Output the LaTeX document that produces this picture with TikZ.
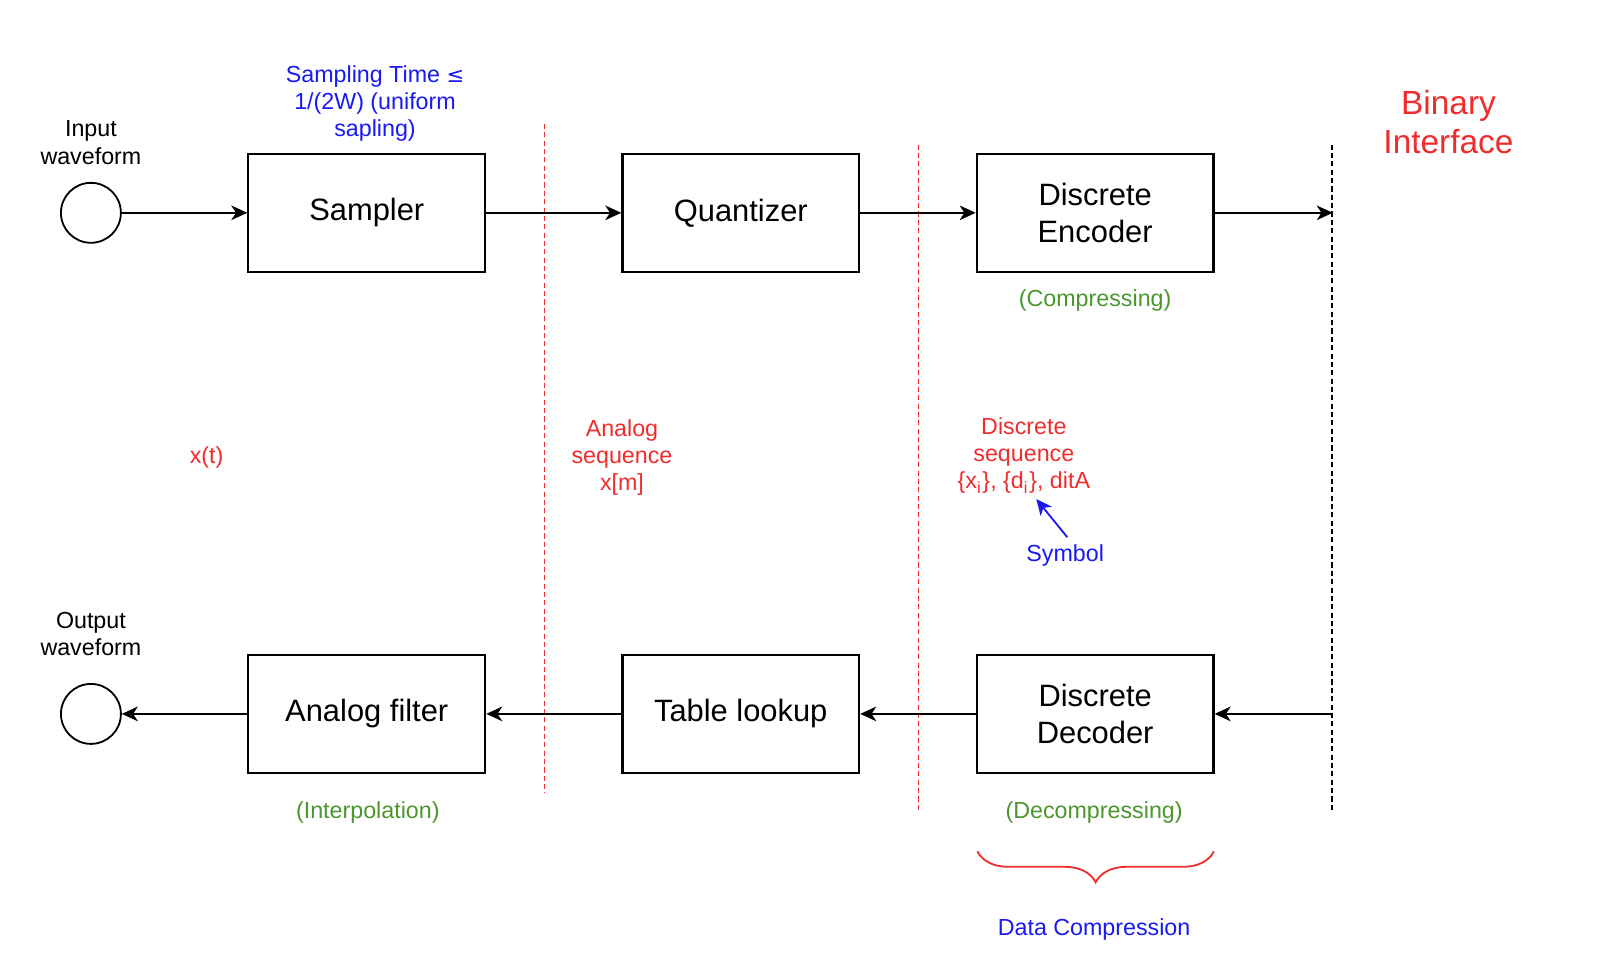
\documentclass[tikz,border=0pt]{standalone}
\usepackage{fontspec}
\setmainfont{Liberation Sans}
\usetikzlibrary{arrows.meta,decorations.pathreplacing}
\definecolor{lblred}{RGB}{240,45,45}
\definecolor{lblblue}{RGB}{25,25,245}
\definecolor{lblgreen}{RGB}{75,150,45}
\tikzset{
    block/.style={draw, line width=0.6pt, minimum width=2.29cm,
        minimum height=1.14cm, align=center,
        font=\fontsize{8.5}{10.2}\selectfont},
    port/.style={draw, circle, line width=0.5pt, minimum size=0.58cm,
        inner sep=0pt},
    note/.style={align=center, inner sep=0pt,
        font=\fontsize{6.4}{7.5}\selectfont},
    flow/.style={line width=0.6pt,
        -{Stealth[length=4.4pt,width=4pt,inset=1.3pt]}},
    cut/.style={lblred, line width=0.45pt, dash pattern=on 1.4pt off 0.9pt},
}
\begin{document}
\begin{tikzpicture}[x=0.01cm, y=-0.01cm]
    \useasboundingbox (0,0) rectangle (1568,925);
    \pgfmathsetmacro\toprow{206};
    \pgfmathsetmacro\botrow{691};

    % blocks
    \node[port] (in) at (88, \toprow) {};
    \node[block] (sampler) at (355, \toprow) {Sampler};
    \node[block] (quant) at (717, \toprow) {Quantizer};
    \node[block] (enc) at (1060, \toprow) {Discrete\\Encoder};
    \node[port] (out) at (88, \botrow) {};
    \node[block] (filter) at (355, \botrow) {Analog filter};
    \node[block] (lookup) at (717, \botrow) {Table lookup};
    \node[block] (dec) at (1060, \botrow) {Discrete\\Decoder};
    \coordinate (bitop) at (1290, \toprow);
    \coordinate (bibot) at (1290, \botrow);

    % cut lines
    \draw[cut] (527, 120) -- (527, 768);
    \draw[cut] (889, 140) -- (889, 786);
    \draw[line width=0.5pt, dash pattern=on 1.4pt off 0.9pt]
        (1289, 140) -- (1289, 786);

    % connectors
    \draw[flow] (in) -- (sampler);
    \draw[flow] (sampler) -- (quant);
    \draw[flow] (quant) -- (enc);
    \draw[flow] (enc) -- (bitop);
    \draw[flow] (bibot) -- (dec);
    \draw[flow] (dec) -- (lookup);
    \draw[flow] (lookup) -- (filter);
    \draw[flow] (filter) -- (out);

    % labels
    \node[note] (inlbl) at (88, 138) {Input\\waveform};
    \node[note] (outlbl) at (88, 614) {Output\\waveform};
    \node[note, lblblue] (samplbl) at (363, 100)
        {Sampling Time {\fontspec{DejaVu Sans}\fontsize{5.8}{7.5}\selectfont ≤}\\1/(2W) (uniform\\sapling)};
    \node[note, lblgreen] (complbl) at (1060, 291) {(Compressing)};
    \node[note, lblgreen] (interplbl) at (356, 786) {(Interpolation)};
    \node[note, lblgreen] (decomplbl) at (1059, 786) {(Decompressing)};
    \node[note, lblred] (xt) at (200, 443) {x(t)};
    \node[note, lblred] (aseq) at (602, 443) {Analog\\sequence\\x[m]};
    \node[note, lblred] (dseq) at (991, 441)
        {Discrete\\sequence\\\{x\textsubscript{i}\}, \{d\textsubscript{i}\}, ditA};
    \node[note, lblblue] (sym) at (1031, 538) {Symbol};
    \coordinate (symtail) at (1033, 520);
    \coordinate (symtip) at (1003, 483);
    \draw[lblblue, line width=0.5pt,
        -{Stealth[length=4.4pt,width=4pt,inset=1.3pt]}] (symtail) -- (symtip);
    \node[align=center, inner sep=0pt, lblred,
        font=\fontsize{9.2}{10.8}\selectfont] (bilbl) at (1402, 118)
        {Binary\\Interface};

    % brace
    \coordinate (brl) at (946, 824);
    \coordinate (brr) at (1175, 824);
    \draw[lblred, line width=0.5pt,
        decorate, decoration={brace, mirror, amplitude=0.3cm}]
        (brl) -- (brr);
    \node[note, lblblue] (datalbl) at (1059, 900) {Data Compression};
\end{tikzpicture}
\end{document}
